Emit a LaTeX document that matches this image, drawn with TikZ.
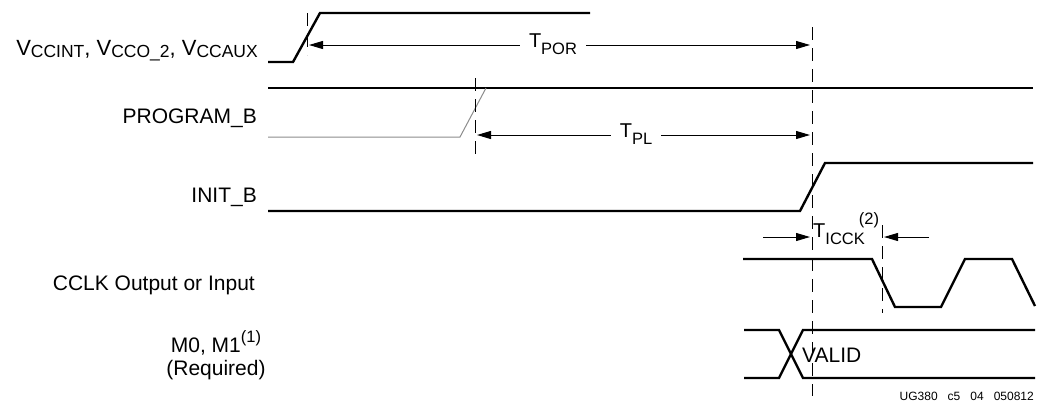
\documentclass[tikz,border=0pt]{standalone}
\usepackage{fontspec}
\setmainfont{Liberation Sans}
\usetikzlibrary{arrows.meta, positioning, calc}
\newcommand{\lo}[2][-7pt]{\raisebox{#1}{\fontsize{16.5}{16.5}\selectfont #2}}
\newcommand{\hi}[2][10pt]{\raisebox{#1}{\fontsize{16.5}{16.5}\selectfont #2}}

\begin{document}
\begin{tikzpicture}[
  x=1pt, y=-1pt,
  font=\fontsize{21}{23}\selectfont,
  >={Triangle[length=14pt, width=8pt]},
  sigline/.style={line width=2.4pt, line join=miter},
  grayline/.style={line width=1pt, black!45},
  guide/.style={line width=1pt, dash pattern=on 13pt off 8pt},
  timearr/.style={->, line width=1pt},
  sig/.style={anchor=base east, inner sep=0pt},
  tlbl/.style={anchor=base, inner ysep=0pt, inner xsep=9pt, font=\fontsize{20}{22}\selectfont},
]
\useasboundingbox (0,0) rectangle (1037,402);
% signal names
\node[sig] (vcc) at (258,55) {\fontsize{22}{24}\selectfont V\lo[-2pt]{\fontsize{17.5}{17.5}\selectfont CCINT}, V\lo[-2pt]{\fontsize{17.5}{17.5}\selectfont CCO\_2}, V\lo[-2pt]{\fontsize{17.5}{17.5}\selectfont CCAUX}};
\node[sig] (prog) at (257,123) {PROGRAM\_B};
\node[sig] (init) at (257,202) {INIT\_B};
\node[sig] (cclk) at (255,290) {CCLK Output or Input};
\node[anchor=base, inner sep=0pt] (mode) at (216,352) {M0, M1\hi{(1)}};
\node[anchor=base, inner sep=0pt] (req) at (216,375) {(Required)};
% row 1: power supplies
\coordinate (v0) at (268,62);
\coordinate (v1) at (293,62);
\coordinate (v2) at (320,13);
\coordinate (v3) at (590,13);
\draw[sigline] (v0) -- (v1) -- (v2) -- (v3);
% row 2: PROGRAM_B
\coordinate (p0) at (268,88);
\coordinate (p1) at (1033,88);
\draw[sigline] (p0) -- (p1);
\coordinate (q0) at (268,137);
\coordinate (q1) at (460,137);
\coordinate (q2) at (486,88);
\draw[grayline] (q0) -- (q1) -- (q2);
% row 3: INIT_B
\coordinate (i0) at (268,211);
\coordinate (i1) at (800,211);
\coordinate (i2) at (825,163);
\coordinate (i3) at (1033,163);
\draw[sigline] (i0) -- (i1) -- (i2) -- (i3);
% row 4: CCLK
\coordinate (c0) at (743,259);
\coordinate (c1) at (872,259);
\coordinate (c2) at (895,307);
\coordinate (c3) at (941,307);
\coordinate (c4) at (965,259);
\coordinate (c5) at (1012,259);
\coordinate (c6) at (1035,306);
\draw[sigline] (c0) -- (c1) -- (c2) -- (c3) -- (c4) -- (c5) -- (c6);
% row 5: mode pins
\coordinate (m0) at (744,330);
\coordinate (m1) at (779,330);
\coordinate (m2) at (803,378);
\coordinate (m3) at (1035,378);
\coordinate (n0) at (744,378);
\coordinate (n1) at (779,378);
\coordinate (n2) at (803,330);
\coordinate (n3) at (1035,330);
\draw[sigline] (m0) -- (m1) -- (m2) -- (m3);
\draw[sigline] (n0) -- (n1) -- (n2) -- (n3);
\node[anchor=base west, inner sep=0pt] (valid) at (802,362) {VALID};
% guides
\coordinate (gp0) at (307,13);
\coordinate (gp1) at (307,55);
\draw[guide] (gp0) -- (gp1);
\coordinate (gl0) at (475,78);
\coordinate (gl1) at (475,158);
\draw[guide] (gl0) -- (gl1);
\coordinate (gm0) at (812,27);
\coordinate (gm1) at (812,396);
\draw[guide] (gm0) -- (gm1);
\coordinate (gc0) at (882,225);
\coordinate (gc1) at (882,313);
\draw[guide] (gc0) -- (gc1);
% timing parameters
\node[tlbl] (tpor) at (553,47) {T\lo{POR}};
\coordinate (porL) at (309,45);
\coordinate (porR) at (810,45);
\draw[timearr] (tpor.west |- porL) -- (porL);
\draw[timearr] (tpor.east |- porR) -- (porR);
\node[tlbl] (tpl) at (636,137) {T\lo{PL}};
\coordinate (plL) at (477,135);
\coordinate (plR) at (810,135);
\draw[timearr] (tpl.west |- plL) -- (plL);
\draw[timearr] (tpl.east |- plR) -- (plR);
\node[tlbl, anchor=base west, inner sep=0pt] (ticck) at (813,237) {T\lo{ICCK}\hspace{-6pt}\hi[13pt]{(2)}};
\coordinate (ckA) at (763,237);
\coordinate (ckB) at (810,237);
\coordinate (ckC) at (929,237);
\coordinate (ckD) at (884,237);
\draw[timearr] (ckA) -- (ckB);
\draw[timearr] (ckC) -- (ckD);
% figure id
\node[anchor=base east, inner sep=0pt, font=\fontsize{12}{14}\selectfont] (figid) at (1034,400) {UG380\hspace{10pt}c5\hspace{10pt}04\hspace{10pt}050812};
\end{tikzpicture}
\end{document}
